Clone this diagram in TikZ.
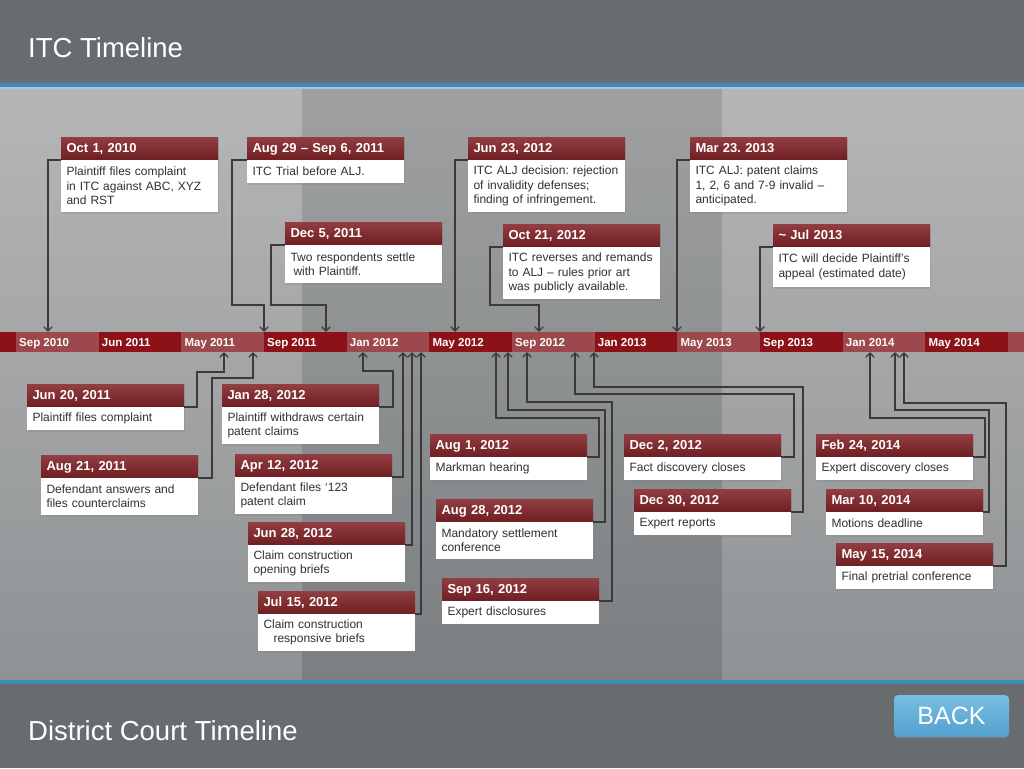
\documentclass[tikz,border=0pt]{standalone}
\usepackage{fontspec}
\setmainfont{Liberation Sans}
\usetikzlibrary{positioning,arrows.meta,shadows}
\definecolor{topband}{RGB}{104,108,110}
\definecolor{rule}{RGB}{62,138,186}
\definecolor{rulelt}{RGB}{168,198,218}
\definecolor{panlt}{RGB}{181,182,183}
\definecolor{panltb}{RGB}{143,146,148}
\definecolor{pandk}{RGB}{158,160,161}
\definecolor{pandkb}{RGB}{124,127,129}
\definecolor{hdtop}{RGB}{146,62,66}
\definecolor{hdbot}{RGB}{110,30,34}
\definecolor{bodytxt}{RGB}{48,48,48}
\definecolor{connc}{RGB}{58,58,58}
\definecolor{bardk}{RGB}{140,18,24}
\definecolor{barlt}{RGB}{156,72,76}
\definecolor{backtop}{RGB}{118,190,228}
\definecolor{backbot}{RGB}{84,160,205}
\frenchspacing

\begin{document}
\begin{tikzpicture}[x=1pt,y=-1pt,
		evhead/.style={anchor=north west, top color=hdtop, bottom color=hdbot, text=white,
			font=\fontsize{13}{15}\selectfont\bfseries, text width=146pt, align=left,
			inner xsep=5.5pt, inner ysep=0pt, minimum height=23pt, outer sep=0pt,
			text height=9.5pt, text depth=2.5pt,
			drop shadow={opacity=0.3, shadow xshift=1pt, shadow yshift=-1pt}},
		evbody/.style={fill=white, text=bodytxt, font=\fontsize{12}{14.3}\selectfont,
			text width=146pt, align=left, inner xsep=5.5pt, inner ysep=3pt,
			minimum height=#1, outer sep=0pt,
			drop shadow={opacity=0.3, shadow xshift=1pt, shadow yshift=-1.5pt}},
		evbody/.default=23pt,
		conn/.style={draw=connc, line width=1.2pt, -{Straight Barb[length=4.5pt,width=8.5pt]}},
		barlbl/.style={anchor=base west, text=white, font=\fontsize{11.5}{13}\selectfont\bfseries, inner sep=0pt},
		heading/.style={anchor=base west, text=white, font=\fontsize{27.5}{30}\selectfont, inner sep=0pt},
		backbtn/.style={rounded corners=4pt, top color=backtop, bottom color=backbot, text=white,
			font=\fontsize{25}{27}\selectfont, minimum width=115pt, minimum height=42pt, inner sep=0pt,
			drop shadow={opacity=0.45, shadow xshift=0pt, shadow yshift=-1.5pt}}]
	
	\useasboundingbox (0,0) rectangle (1024,768);
	
	% background
	\fill[topband] (0,0) rectangle (1024,83);
	\fill[rule] (0,83) rectangle (1024,87);
	\fill[rulelt] (0,87) rectangle (1024,89);
	\shade[top color=panlt, bottom color=panltb] (0,89) rectangle (302,680);
	\shade[top color=pandk, bottom color=pandkb] (302,89) rectangle (722,680);
	\shade[top color=panlt, bottom color=panltb] (722,89) rectangle (1024,680);
	\fill[rule] (0,680) rectangle (1024,684);
	\fill[topband] (0,684) rectangle (1024,768);
	
	\node[heading] (title) at (28,57) {ITC Timeline};
	\node[heading] (subtitle) at (28,740) {District Court Timeline};
	
	% timeline bar
	\fill[bardk] (0,332) rectangle (1024,352);
	\foreach \xs in {16,181.3,346.7,512,677.3,842.7,1008}
		\fill[barlt] (\xs,332) rectangle ++(82.7,20);
	\foreach \lbl [count=\i from 0] in {Sep 2010,Jun 2011,May 2011,Sep 2011,Jan 2012,May 2012,
		Sep 2012,Jan 2013,May 2013,Sep 2013,Jan 2014,May 2014}
		\node[barlbl] (tick\i) at ({19+82.67*\i},346.5) {\lbl};
	
	% ITC events
	\node[evhead] (oct10h) at (61,137) {Oct 1, 2010};
	\node[evbody=52pt, below=0pt of oct10h] (oct10b) {Plaintiff files complaint\\in ITC against ABC, XYZ\\and RST};
	\coordinate (oct10p) at (48,332);
	\draw[conn] (oct10b.north west) -| (oct10p);
	
	\node[evhead] (trialh) at (247,137) {Aug 29 -- Sep 6, 2011};
	\node[evbody, below=0pt of trialh] (trialb) {ITC Trial before ALJ.};
	\coordinate (trialp) at (264,332);
	\draw[conn] (trialb.north west) -| (232,305) -| (trialp);
	
	\node[evhead] (dec11h) at (285,222) {Dec 5, 2011};
	\node[evbody=38pt, below=0pt of dec11h] (dec11b) {Two respondents settle\\\hspace*{3pt}with Plaintiff.};
	\coordinate (dec11p) at (326,332);
	\draw[conn] (dec11b.north west) -| (271,305) -| (dec11p);
	
	\node[evhead] (jun12h) at (468,137) {Jun 23, 2012};
	\node[evbody=52pt, below=0pt of jun12h] (jun12b) {ITC ALJ decision: rejection\\of invalidity defenses;\\finding of infringement.};
	\coordinate (jun12p) at (455,332);
	\draw[conn] (jun12b.north west) -| (jun12p);
	
	\node[evhead] (oct12h) at (503,224) {Oct 21, 2012};
	\node[evbody=52pt, below=0pt of oct12h] (oct12b) {ITC reverses and remands\\to ALJ -- rules prior art\\was publicly available.};
	\coordinate (oct12p) at (539,332);
	\draw[conn] (oct12b.north west) -| (490,305) -| (oct12p);
	
	\node[evhead] (mar13h) at (690,137) {Mar 23. 2013};
	\node[evbody=52pt, below=0pt of mar13h] (mar13b) {ITC ALJ: patent claims\\1, 2, 6 and 7-9 invalid --\\anticipated.};
	\coordinate (mar13p) at (677,332);
	\draw[conn] (mar13b.north west) -| (mar13p);
	
	\node[evhead] (jul13h) at (773,224) {\textasciitilde\ Jul 2013};
	\node[evbody=40pt, below=0pt of jul13h] (jul13b) {ITC will decide Plaintiff's\\appeal (estimated date)};
	\coordinate (jul13p) at (760,332);
	\draw[conn] (jul13b.north west) -| (jul13p);
	
	% district court events
	\node[evhead] (jun11h) at (27,384) {Jun 20, 2011};
	\node[evbody, below=0pt of jun11h] (jun11b) {Plaintiff files complaint};
	\coordinate (jun11p) at (224,352);
	\draw[conn] (jun11b.north east) -| (197,372) -| (jun11p);
	
	\node[evhead] (aug11h) at (41,455) {Aug 21, 2011};
	\node[evbody=37pt, below=0pt of aug11h] (aug11b) {Defendant answers and\\files counterclaims};
	\coordinate (aug11p) at (253,352);
	\draw[conn] (aug11b.north east) -| (212,378) -| (aug11p);
	
	\node[evhead] (jan12h) at (222,384) {Jan 28, 2012};
	\node[evbody=37pt, below=0pt of jan12h] (jan12b) {Plaintiff withdraws certain\\patent claims};
	\coordinate (jan12p) at (363,352);
	\draw[conn] (jan12b.north east) -| (393,371) -| (jan12p);
	
	\node[evhead] (apr12h) at (235,454) {Apr 12, 2012};
	\node[evbody=37pt, below=0pt of apr12h] (apr12b) {Defendant files `123\\patent claim};
	\coordinate (apr12p) at (403,352);
	\draw[conn] (apr12b.north east) -| (apr12p);
	
	\node[evhead] (ccoph) at (248,522) {Jun 28, 2012};
	\node[evbody=37pt, below=0pt of ccoph] (ccopb) {Claim construction\\opening briefs};
	\coordinate (ccopp) at (412,352);
	\draw[conn] (ccopb.north east) -| (ccopp);
	
	\node[evhead] (ccreh) at (258,591) {Jul 15, 2012};
	\node[evbody=37pt, below=0pt of ccreh] (ccreb) {Claim construction\\\hspace*{10pt}responsive briefs};
	\coordinate (ccrep) at (421,352);
	\draw[conn] (ccreb.north east) -| (ccrep);
	
	\node[evhead] (aug1h) at (430,434) {Aug 1, 2012};
	\node[evbody, below=0pt of aug1h] (aug1b) {Markman hearing};
	\coordinate (aug1p) at (496,352);
	\draw[conn] (aug1b.north east) -| (599,418) -| (aug1p);
	
	\node[evhead] (aug28h) at (436,499) {Aug 28, 2012};
	\node[evbody=37pt, below=0pt of aug28h] (aug28b) {Mandatory settlement\\conference};
	\coordinate (aug28p) at (508,352);
	\draw[conn] (aug28b.north east) -| (605,410) -| (aug28p);
	
	\node[evhead] (sep16h) at (442,578) {Sep 16, 2012};
	\node[evbody, below=0pt of sep16h] (sep16b) {Expert disclosures};
	\coordinate (sep16p) at (527,352);
	\draw[conn] (sep16b.north east) -| (612,402) -| (sep16p);
	
	\node[evhead] (dec2h) at (624,434) {Dec 2, 2012};
	\node[evbody, below=0pt of dec2h] (dec2b) {Fact discovery closes};
	\coordinate (dec2p) at (575,352);
	\draw[conn] (dec2b.north east) -| (794,394) -| (dec2p);
	
	\node[evhead] (dec30h) at (634,489) {Dec 30, 2012};
	\node[evbody, below=0pt of dec30h] (dec30b) {Expert reports};
	\coordinate (dec30p) at (594,352);
	\draw[conn] (dec30b.north east) -| (803,387) -| (dec30p);
	
	\node[evhead] (feb14h) at (816,434) {Feb 24, 2014};
	\node[evbody, below=0pt of feb14h] (feb14b) {Expert discovery closes};
	\coordinate (feb14p) at (870,352);
	\draw[conn] (feb14b.north east) -| (985,418) -| (feb14p);
	
	\node[evhead] (mar14h) at (826,489) {Mar 10, 2014};
	\node[evbody, below=0pt of mar14h] (mar14b) {Motions deadline};
	\coordinate (mar14p) at (895,352);
	\draw[conn] (mar14b.north east) -| (989,410) -| (mar14p);
	
	\node[evhead] (may14h) at (836,543) {May 15, 2014};
	\node[evbody, below=0pt of may14h] (may14b) {Final pretrial conference};
	\coordinate (may14p) at (904,352);
	\draw[conn] (may14b.north east) -| (1006,403) -| (may14p);
	
	\node[backbtn] (back) at (951.5,716) {BACK};
	
\end{tikzpicture}
\end{document}
